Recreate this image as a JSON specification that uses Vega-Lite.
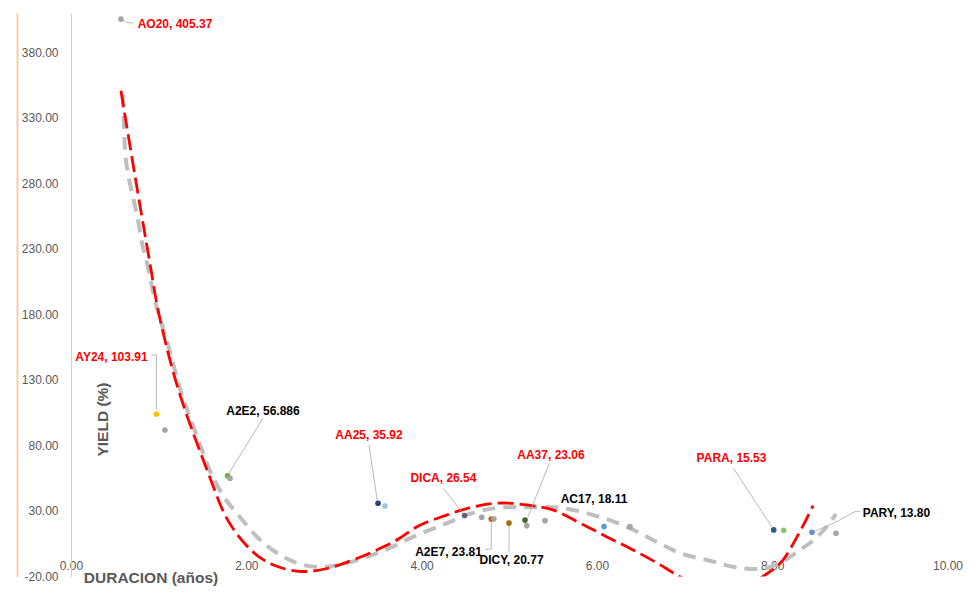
{
  "$schema": "https://vega.github.io/schema/vega-lite/v6.json",
  "width": 876.5,
  "height": 563.5,
  "autosize": {"type": "none"},
  "padding": {"left": 71, "top": 13, "right": 32.5, "bottom": 21.5},
  "background": "white",
  "config": {"view": {"stroke": null}, "font": "Liberation Sans"},
  "datasets": {
    "puntos": [
      {"nombre": "AO20", "x": 0.570, "y": 405.37, "etiqueta": "AO20, 405.37", "lx": 1.187, "ly": 401.8, "destacado": "si"},
      {"nombre": "AY24", "x": 0.975, "y": 103.91, "etiqueta": "AY24, 103.91", "lx": 0.462, "ly": 147.6, "destacado": "si"},
      {"nombre": "otros", "x": 1.072, "y": 91.8},
      {"nombre": "A2E2", "x": 1.786, "y": 56.886, "etiqueta": "A2E2, 56.886", "lx": 2.190, "ly": 106.3, "destacado": "no"},
      {"nombre": "otros", "x": 1.814, "y": 55.0},
      {"nombre": "AA25", "x": 3.503, "y": 35.92, "etiqueta": "AA25, 35.92", "lx": 3.400, "ly": 88.0, "destacado": "si"},
      {"nombre": "n1", "x": 3.582, "y": 33.8},
      {"nombre": "DICA", "x": 4.490, "y": 26.54, "etiqueta": "DICA, 26.54", "lx": 4.249, "ly": 55.2, "destacado": "si"},
      {"nombre": "otros", "x": 4.686, "y": 25.2},
      {"nombre": "A2E7", "x": 4.795, "y": 23.81, "etiqueta": "A2E7, 23.81", "lx": 4.307, "ly": -1.3, "destacado": "no"},
      {"nombre": "otros", "x": 4.825, "y": 24.0},
      {"nombre": "DICY", "x": 4.997, "y": 20.77, "etiqueta": "DICY, 20.77", "lx": 5.026, "ly": -7.4, "destacado": "no"},
      {"nombre": "AA37", "x": 5.180, "y": 23.06, "etiqueta": "AA37, 23.06", "lx": 5.476, "ly": 72.7, "destacado": "si"},
      {"nombre": "otros", "x": 5.199, "y": 18.8},
      {"nombre": "otros", "x": 5.408, "y": 22.6},
      {"nombre": "AC17", "x": 6.081, "y": 18.11, "etiqueta": "AC17, 18.11", "lx": 5.967, "ly": 39.2, "destacado": "no"},
      {"nombre": "otros", "x": 6.378, "y": 18.0},
      {"nombre": "PARA", "x": 8.017, "y": 15.53, "etiqueta": "PARA, 15.53", "lx": 7.536, "ly": 70.5, "destacado": "si"},
      {"nombre": "n2", "x": 8.131, "y": 15.3},
      {"nombre": "PARY", "x": 8.454, "y": 13.80, "etiqueta": "PARY, 13.80", "lx": 9.418, "ly": 28.5, "destacado": "no"},
      {"nombre": "otros", "x": 8.728, "y": 13.0}
    ],
    "lideres": [
      {"nombre": "AO20", "orden": 1, "x": 0.578, "y": 405.3},
      {"nombre": "AO20", "orden": 2, "x": 0.635, "y": 402.7},
      {"nombre": "AO20", "orden": 3, "x": 0.710, "y": 402.3},
      {"nombre": "AY24", "orden": 1, "x": 0.920, "y": 149.0},
      {"nombre": "AY24", "orden": 2, "x": 0.975, "y": 149.0},
      {"nombre": "AY24", "orden": 3, "x": 0.975, "y": 107.5},
      {"nombre": "A2E2", "orden": 1, "x": 2.191, "y": 100.8},
      {"nombre": "A2E2", "orden": 2, "x": 1.800, "y": 58.5},
      {"nombre": "AA25", "orden": 1, "x": 3.400, "y": 80.4},
      {"nombre": "AA25", "orden": 2, "x": 3.495, "y": 37.5},
      {"nombre": "DICA", "orden": 1, "x": 4.249, "y": 47.3},
      {"nombre": "DICA", "orden": 2, "x": 4.468, "y": 28.5},
      {"nombre": "AA37", "orden": 1, "x": 5.458, "y": 66.4},
      {"nombre": "AA37", "orden": 2, "x": 5.210, "y": 25.0},
      {"nombre": "A2E7", "orden": 1, "x": 4.728, "y": 0.8},
      {"nombre": "A2E7", "orden": 2, "x": 4.795, "y": 0.8},
      {"nombre": "A2E7", "orden": 3, "x": 4.795, "y": 21.5},
      {"nombre": "DICY", "orden": 1, "x": 4.997, "y": -1.1},
      {"nombre": "DICY", "orden": 2, "x": 4.997, "y": 18.5},
      {"nombre": "PARA", "orden": 1, "x": 7.557, "y": 62.6},
      {"nombre": "PARA", "orden": 2, "x": 8.000, "y": 17.6},
      {"nombre": "PARY", "orden": 1, "x": 8.475, "y": 14.2},
      {"nombre": "PARY", "orden": 2, "x": 8.736, "y": 21.8},
      {"nombre": "PARY", "orden": 3, "x": 8.944, "y": 29.5},
      {"nombre": "PARY", "orden": 4, "x": 9.001, "y": 29.5}
    ],
    "tendencias": [
      {"curva": "roja", "x": 0.570, "y": 350.6},
      {"curva": "roja", "x": 0.656, "y": 315.5},
      {"curva": "roja", "x": 0.782, "y": 265.1},
      {"curva": "roja", "x": 0.913, "y": 214.0},
      {"curva": "roja", "x": 0.978, "y": 188.5},
      {"curva": "roja", "x": 1.053, "y": 165.6},
      {"curva": "roja", "x": 1.149, "y": 140.2},
      {"curva": "roja", "x": 1.263, "y": 114.7},
      {"curva": "roja", "x": 1.395, "y": 89.3},
      {"curva": "roja", "x": 1.509, "y": 68.9},
      {"curva": "roja", "x": 1.624, "y": 48.5},
      {"curva": "roja", "x": 1.681, "y": 38.4},
      {"curva": "roja", "x": 1.763, "y": 26.2},
      {"curva": "roja", "x": 1.860, "y": 15.5},
      {"curva": "roja", "x": 1.997, "y": 4.0},
      {"curva": "roja", "x": 2.179, "y": -6.6},
      {"curva": "roja", "x": 2.407, "y": -13.5},
      {"curva": "roja", "x": 2.670, "y": -16.2},
      {"curva": "roja", "x": 2.921, "y": -13.9},
      {"curva": "roja", "x": 3.183, "y": -8.2},
      {"curva": "roja", "x": 3.491, "y": 0.3},
      {"curva": "roja", "x": 3.754, "y": 9.4},
      {"curva": "roja", "x": 3.905, "y": 16.3},
      {"curva": "roja", "x": 4.290, "y": 27.0},
      {"curva": "roja", "x": 4.586, "y": 33.1},
      {"curva": "roja", "x": 4.929, "y": 36.1},
      {"curva": "roja", "x": 5.203, "y": 34.6},
      {"curva": "roja", "x": 5.499, "y": 30.8},
      {"curva": "roja", "x": 5.807, "y": 20.8},
      {"curva": "roja", "x": 6.115, "y": 10.2},
      {"curva": "roja", "x": 6.412, "y": 0.3},
      {"curva": "roja", "x": 6.686, "y": -9.7},
      {"curva": "roja", "x": 6.914, "y": -18.9},
      {"curva": "roja", "x": 7.150, "y": -27.0},
      {"curva": "roja", "x": 7.420, "y": -32.0},
      {"curva": "roja", "x": 7.700, "y": -27.0},
      {"curva": "roja", "x": 7.918, "y": -18.9},
      {"curva": "roja", "x": 8.123, "y": -7.4},
      {"curva": "roja", "x": 8.283, "y": 10.2},
      {"curva": "roja", "x": 8.466, "y": 34.0},
      {"curva": "gris", "x": 0.593, "y": 347.6},
      {"curva": "gris", "x": 0.616, "y": 305.6},
      {"curva": "gris", "x": 0.650, "y": 288.0},
      {"curva": "gris", "x": 0.707, "y": 269.7},
      {"curva": "gris", "x": 0.764, "y": 252.1},
      {"curva": "gris", "x": 0.810, "y": 234.6},
      {"curva": "gris", "x": 0.867, "y": 219.3},
      {"curva": "gris", "x": 0.924, "y": 201.0},
      {"curva": "gris", "x": 0.970, "y": 187.3},
      {"curva": "gris", "x": 1.038, "y": 172.0},
      {"curva": "gris", "x": 1.124, "y": 152.9},
      {"curva": "gris", "x": 1.224, "y": 127.7},
      {"curva": "gris", "x": 1.338, "y": 104.8},
      {"curva": "gris", "x": 1.452, "y": 84.2},
      {"curva": "gris", "x": 1.566, "y": 63.8},
      {"curva": "gris", "x": 1.719, "y": 43.5},
      {"curva": "gris", "x": 1.928, "y": 25.4},
      {"curva": "gris", "x": 2.122, "y": 10.2},
      {"curva": "gris", "x": 2.350, "y": -2.1},
      {"curva": "gris", "x": 2.578, "y": -9.7},
      {"curva": "gris", "x": 2.841, "y": -12.8},
      {"curva": "gris", "x": 3.103, "y": -10.5},
      {"curva": "gris", "x": 3.377, "y": -5.1},
      {"curva": "gris", "x": 3.640, "y": 1.8},
      {"curva": "gris", "x": 3.902, "y": 10.2},
      {"curva": "gris", "x": 4.290, "y": 20.8},
      {"curva": "gris", "x": 4.586, "y": 28.5},
      {"curva": "gris", "x": 4.860, "y": 32.3},
      {"curva": "gris", "x": 5.123, "y": 33.1},
      {"curva": "gris", "x": 5.431, "y": 33.1},
      {"curva": "gris", "x": 5.727, "y": 30.8},
      {"curva": "gris", "x": 6.035, "y": 25.4},
      {"curva": "gris", "x": 6.343, "y": 17.8},
      {"curva": "gris", "x": 6.640, "y": 7.9},
      {"curva": "gris", "x": 6.948, "y": -2.1},
      {"curva": "gris", "x": 7.256, "y": -7.4},
      {"curva": "gris", "x": 7.633, "y": -13.5},
      {"curva": "gris", "x": 7.827, "y": -14.3},
      {"curva": "gris", "x": 8.089, "y": -9.7},
      {"curva": "gris", "x": 8.317, "y": 0.2},
      {"curva": "gris", "x": 8.511, "y": 10.2},
      {"curva": "gris", "x": 8.637, "y": 19.3},
      {"curva": "gris", "x": 8.728, "y": 27.7}
    ]
  },
  "layer": [
    {
      "data": {"name": "puntos"},
      "mark": {"type": "point", "opacity": 0},
      "encoding": {
        "y": {
          "field": "y", "type": "quantitative",
          "scale": {"domain": [-20, 410], "nice": false, "zero": false},
          "axis": {"orient": "left", "offset": 54, "labels": false, "ticks": false, "grid": false, "title": null, "domainColor": "#f8cbad", "domainWidth": 2}
        }
      }
    },
    {
      "encoding": {
        "x": {
          "field": "x", "type": "quantitative",
          "scale": {"domain": [0, 10], "nice": false, "zero": false},
          "axis": {
            "values": [0, 2, 4, 6, 8, 10], "format": ".2f", "domain": false, "ticks": false, "tickSize": 0, "grid": false,
            "labelPadding": -16, "labelFlush": false, "labelOverlap": false,
            "labelFont": "Liberation Sans", "labelFontSize": 12, "labelColor": "#595959",
            "title": "DURACION (años)", "titleFont": "Liberation Sans", "titleFontSize": 15.5, "titleFontWeight": "bold", "titleColor": "#595959",
            "titleX": 79.5, "titleY": 0.5, "titleAlign": "center", "titleBaseline": "middle"
          }
        },
        "y": {
          "field": "y", "type": "quantitative",
          "scale": {"domain": [-20, 410], "nice": false, "zero": false},
          "axis": {
            "orient": "left",
            "values": [-20, 30, 80, 130, 180, 230, 280, 330, 380], "format": ".2f",
            "labelExpr": "replace(datum.label, '\u2212', '-')",
            "domain": true, "domainColor": "#d0d0d0", "domainWidth": 1, "ticks": false, "tickSize": 0, "grid": false,
            "labelPadding": 13, "labelOverlap": false,
            "labelFont": "Liberation Sans", "labelFontSize": 12, "labelColor": "#595959",
            "title": "YIELD (%)", "titleFont": "Liberation Sans", "titleFontSize": 15.5, "titleFontWeight": "bold", "titleColor": "#595959",
            "titleX": 31, "titleY": 406, "titleAngle": -90, "titleAlign": "center", "titleBaseline": "middle"
          }
        }
      },
      "layer": [
        {
          "data": {"name": "tendencias"},
          "transform": [{"filter": "datum.curva === 'gris'"}],
          "mark": {"type": "line", "color": "#bfbfbf", "strokeWidth": 4, "strokeDash": [13, 8], "interpolate": "monotone"}
        },
        {
          "data": {"name": "tendencias"},
          "transform": [{"filter": "datum.curva === 'roja'"}],
          "mark": {"type": "line", "color": "#ff0000", "strokeWidth": 2.8, "strokeDash": [16, 6], "interpolate": "monotone", "clip": true}
        },
        {
          "data": {"name": "lideres"},
          "mark": {"type": "line", "color": "#a6a6a6", "strokeWidth": 0.8},
          "encoding": {
            "detail": {"field": "nombre", "type": "nominal"},
            "order": {"field": "orden", "type": "quantitative"}
          }
        },
        {
          "data": {"name": "puntos"},
          "mark": {"type": "circle", "size": 32, "opacity": 1},
          "encoding": {
            "fill": {
              "field": "nombre", "type": "nominal", "legend": null,
              "scale": {
                "domain": ["AO20", "AY24", "A2E2", "AA25", "n1", "DICA", "A2E7", "DICY", "AA37", "AC17", "PARA", "n2", "PARY", "otros"],
                "range": ["#a5a5a5", "#ffc000", "#70ad47", "#264478", "#9dc3e6", "#5f6470", "#c55a11", "#997300", "#43682b", "#5b9bd5", "#255e91", "#92c36c", "#6b8fd3", "#a5a5a5"]
              }
            }
          }
        },
        {
          "data": {"name": "puntos"},
          "transform": [{"filter": "isValid(datum.etiqueta)"}],
          "mark": {"type": "text", "font": "Liberation Sans", "fontSize": 12, "fontWeight": "bold", "align": "center", "baseline": "middle"},
          "encoding": {
            "x": {"field": "lx", "type": "quantitative", "scale": {"domain": [0, 10], "nice": false, "zero": false}},
            "y": {"field": "ly", "type": "quantitative", "scale": {"domain": [-20, 410], "nice": false, "zero": false}},
            "text": {"field": "etiqueta", "type": "nominal"},
            "color": {
              "field": "destacado", "type": "nominal", "legend": null,
              "scale": {"domain": ["si", "no"], "range": ["#ff0000", "#000000"]}
            }
          }
        }
      ]
    }
  ],
  "resolve": {"scale": {"y": "independent"}}
}
